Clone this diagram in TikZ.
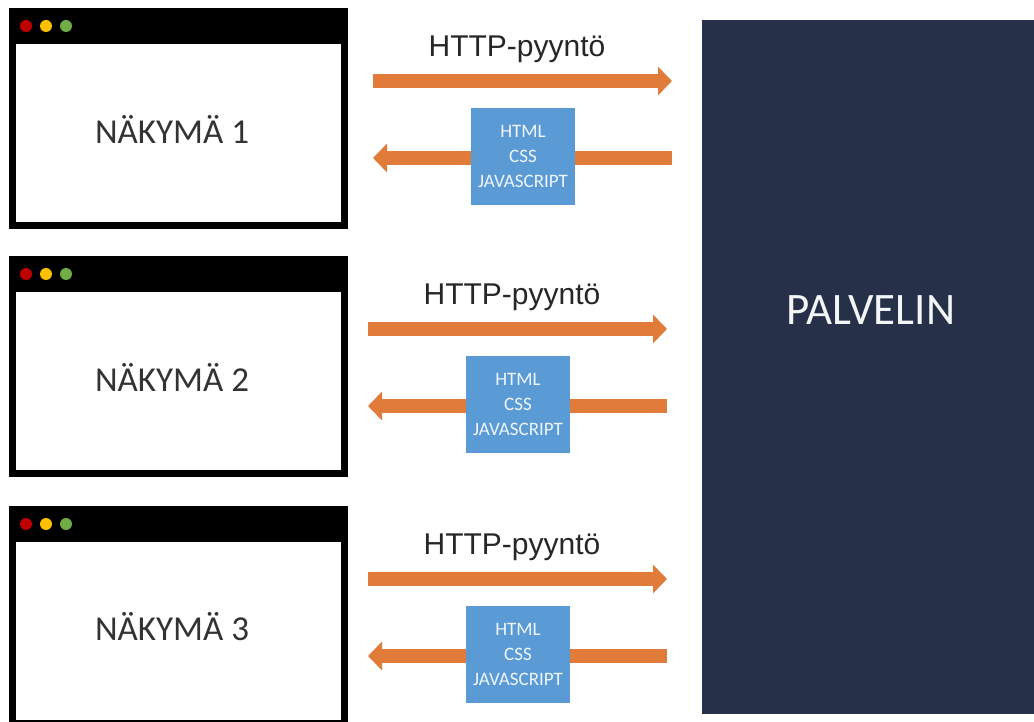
\documentclass[tikz,border=0pt]{standalone}
\usepackage{fontspec}
\setmainfont{Carlito}
\newfontfamily\arialfont{Liberation Sans}
\usetikzlibrary{arrows.meta}
\usetikzlibrary{positioning}

\definecolor{flowc}{HTML}{E07B39}
\definecolor{filec}{HTML}{5B9BD5}
\definecolor{serverc}{HTML}{263049}
\definecolor{dotred}{HTML}{C00000}
\definecolor{dotyellow}{HTML}{FFC000}
\definecolor{dotgreen}{HTML}{70AD47}

\begin{document}
\begin{tikzpicture}
		[x=1pt,y=-1pt,
		frame/.style={fill=black,minimum width=339pt,minimum height=221pt,inner sep=0pt},
		screen/.style={fill=white,minimum width=325pt,minimum height=178pt,inner sep=0pt},
		viewlabel/.style={text=black!80,font=\fontsize{35}{40}\selectfont},
		dot/.style={circle,minimum size=12pt,inner sep=0pt},
		req/.style={font=\arialfont\fontsize{30}{34}\selectfont,text=black!85},
		flowarrow/.style={flowc,line width=14pt,-{Triangle[length=14pt,width=28pt]}},
		filebox/.style={fill=filec,minimum width=104pt,minimum height=97pt,inner sep=0pt,
			align=center,text=white!90!filec,font=\fontsize{19}{25}\selectfont}]
		\clip (0,0) rectangle (1034,722);
		\fill[white] (0,0) rectangle (1034,722);
		
		% server
		\node[fill=serverc,minimum width=340pt,minimum height=694pt,inner sep=0pt] (srv) at (872,367) {};
		\node[text=white!95!serverc,font=\fontsize{45}{50}\selectfont] (srvlabel) at (871,310) {PALVELIN};
		
		\foreach \i/\dy/\dx in {1/0/0, 2/248/-5, 3/498/-5}
		{
		\node[frame] (win\i) at (178.5,118.5+\dy) {};
		\node[screen] (scr\i) at (178.5,133+\dy) {};
		\node[viewlabel] (view\i) at (172,129+\dy) {NÄKYMÄ \i};
		\node[dot,fill=dotred] (red\i) at (26,26+\dy) {};
		\node[dot,fill=dotyellow] (yellow\i) at (46,26+\dy) {};
		\node[dot,fill=dotgreen] (green\i) at (66,26+\dy) {};
		
		\node[req] (req\i) at (517+\dx,49+\dy) {HTTP-pyyntö};
		\coordinate (from\i) at (373+\dx,81+\dy);
		\coordinate (to\i) at (672+\dx,81+\dy);
		\draw[flowarrow] (from\i) -- (to\i);
		\coordinate (back\i) at (672+\dx,158+\dy);
		\coordinate (home\i) at (373+\dx,158+\dy);
		\draw[flowarrow] (back\i) -- (home\i);
		\node[filebox] (files\i) at (523+\dx,156.5+\dy) {HTML\\CSS\\JAVASCRIPT};
		}
		\end{tikzpicture}
\end{document}
